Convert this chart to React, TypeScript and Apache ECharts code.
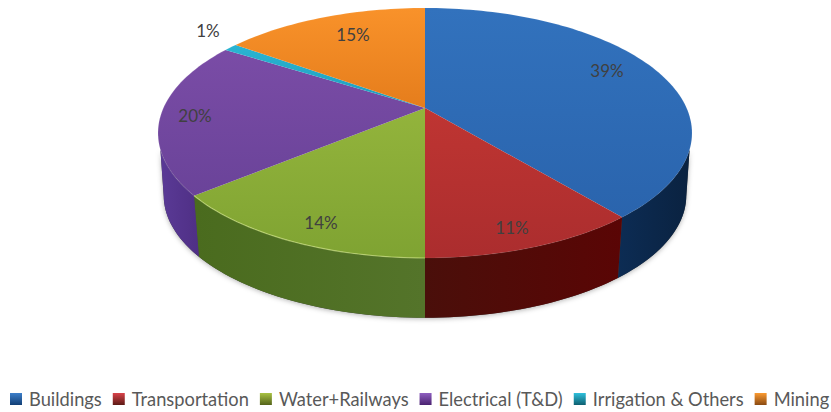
import React, { useEffect, useRef } from "react";
import * as echarts from "echarts";

const categories = ["Buildings", "Transportation", "Water+Railways", "Electrical (T&D)", "Irrigation & Others", "Mining"];
const shares = [39, 11, 14, 20, 1, 15];

const topColors = [
  ["#3272bd", "#2a64ad"], ["#bf3532", "#ab2d2e"], ["#93b43c", "#7fa332"],
  ["#7a4ca6", "#6a4399"], ["#2ab4d2", "#1f9dbc"], ["#f9922a", "#e57d1c"],
];
const wallColors = [
  ["#0c2c54", "#0a2240"], ["#4a0f0a", "#5a0505"], ["#4a6b1e", "#54742a"],
  ["#5a3a96", "#4f2f85"], ["#157a90", "#106070"], ["#a85c10", "#8a4a0c"],
];
const rimColors = [
  "rgba(255,255,255,0.05)", "rgba(255,255,255,0.06)", "rgba(225,245,150,0.55)",
  "rgba(255,255,255,0.10)", "rgba(255,255,255,0.06)", "rgba(255,255,255,0.06)",
];
const legendColors = [
  ["#3d7fca", "#123f75"], ["#d9434a", "#5c1a14"], ["#a8c243", "#54631a"],
  ["#8f5fc0", "#4a2270"], ["#2fc0dc", "#0e5f70"], ["#fb9a30", "#8a4a12"],
];
const labelAnchors = [[607, 70], [512, 227], [321, 222], [195, 115], [208, 30], [353, 34]];

const K = 0.2;
const CX = 425;
const topPlane = { rx: 261.6, ry: 120, y: 108, cx: CX };
const botPlane = { rx: 256, ry: 117.4, y: 171, cx: CX };
const WALL_TOP = [109, 251];
const WALL_BOT = [102, 258];

function project(p: typeof topPlane, deg: number): number[] {
  const a = (deg * Math.PI) / 180;
  const u = Math.sin(a);
  const v = -Math.cos(a);
  const w = 1 - K * v;
  return [p.cx + (p.rx * u) / w, p.y + (p.ry * v) / w];
}

function arc(p: typeof topPlane, from: number, to: number): number[][] {
  const n = Math.max(2, Math.ceil((to - from) / 1.5));
  const out: number[][] = [];
  for (let i = 0; i <= n; i++) out.push(project(p, from + ((to - from) * i) / n));
  return out;
}

const total = shares.reduce((a, b) => a + b, 0);

function grad(c: string[], x2: number, y2: number) {
  return new echarts.graphic.LinearGradient(0, 0, x2, y2, [
    { offset: 0, color: c[0] },
    { offset: 1, color: c[1] },
  ]);
}

function sliceRenderer(idx: number) {
  return () => {
    const before = shares.slice(0, idx).reduce((a, b) => a + b, 0);
    const from = (before / total) * 360;
    const to = ((before + shares[idx]) / total) * 360;
    const topArc = arc(topPlane, from, to);
    const tFrom = Math.max(from, WALL_TOP[0]);
    const tTo = Math.min(to, WALL_TOP[1]);
    const bFrom = Math.max(from, WALL_BOT[0]);
    const bTo = Math.min(to, WALL_BOT[1]);
    const children: any[] = [];
    if (idx === 0) {
      // soft shadow under the whole front wall
      children.push({
        type: "polygon",
        z2: 0,
        shape: {
          points: arc(topPlane, WALL_TOP[0], WALL_TOP[1]).concat(
            arc(botPlane, WALL_BOT[0], WALL_BOT[1]).reverse()
          ),
        },
        style: {
          fill: "#444444",
          shadowBlur: 5,
          shadowColor: "rgba(0,0,0,0.3)",
          shadowOffsetY: 1,
        },
      });
    }
    if (tTo > tFrom) {
      const tf = arc(topPlane, tFrom, tTo);
      const bf = arc(botPlane, bFrom, bTo).reverse();
      children.push({
        type: "polygon",
        z2: 1,
        shape: { points: tf.concat(bf) },
        style: { fill: grad(wallColors[idx], 1, 0) },
      });
    }
    children.push({
      type: "polygon",
      z2: 10,
      shape: { points: [[CX, topPlane.y]].concat(topArc) },
      style: { fill: grad(topColors[idx], 0, 1) },
    });
    children.push({
      type: "polyline",
      z2: 11,
      shape: { points: topArc },
      style: { fill: "none", stroke: rimColors[idx], lineWidth: 1.2 },
    });
    children.push({
      type: "text",
      z2: 20,
      x: labelAnchors[idx][0],
      y: labelAnchors[idx][1],
      style: {
        text: shares[idx] + "%",
        fill: "#404040",
        font: "17px Lato",
        align: "center",
        verticalAlign: "middle",
      },
    });
    return { type: "group", children };
  };
}

const ICON = "path://M0 0L12 0L12 12L0 12Z";

export default function App() {
  const ref = useRef<HTMLDivElement>(null);
  useEffect(() => {
    const chart = echarts.init(ref.current!, undefined, { renderer: "svg" });
    chart.setOption({
      animation: false,
      backgroundColor: "#ffffff",
      legend: {
        left: 10,
        top: 390,
        icon: ICON,
        itemWidth: 12,
        itemHeight: 12,
        itemGap: 11,
        padding: 0,
        selectedMode: false,
        textStyle: { color: "#595959", fontFamily: "Lato", fontSize: 18.3, padding: [0, 0, 0, 2] },
        data: categories.map((name, i) => ({
          name,
          itemStyle: { color: grad(legendColors[i], 0, 1) },
        })),
      },
      series: categories.map((name, i) => ({
        type: "custom",
        name,
        coordinateSystem: "none",
        silent: true,
        clip: false,
        itemStyle: { color: topColors[i][0] },
        data: [[shares[i]]],
        renderItem: sliceRenderer(i),
      })),
    });
    return () => chart.dispose();
  }, []);
  return <div ref={ref} style={{ position: "fixed", left: 0, top: 0, width: 831, height: 412 }} />;
}
